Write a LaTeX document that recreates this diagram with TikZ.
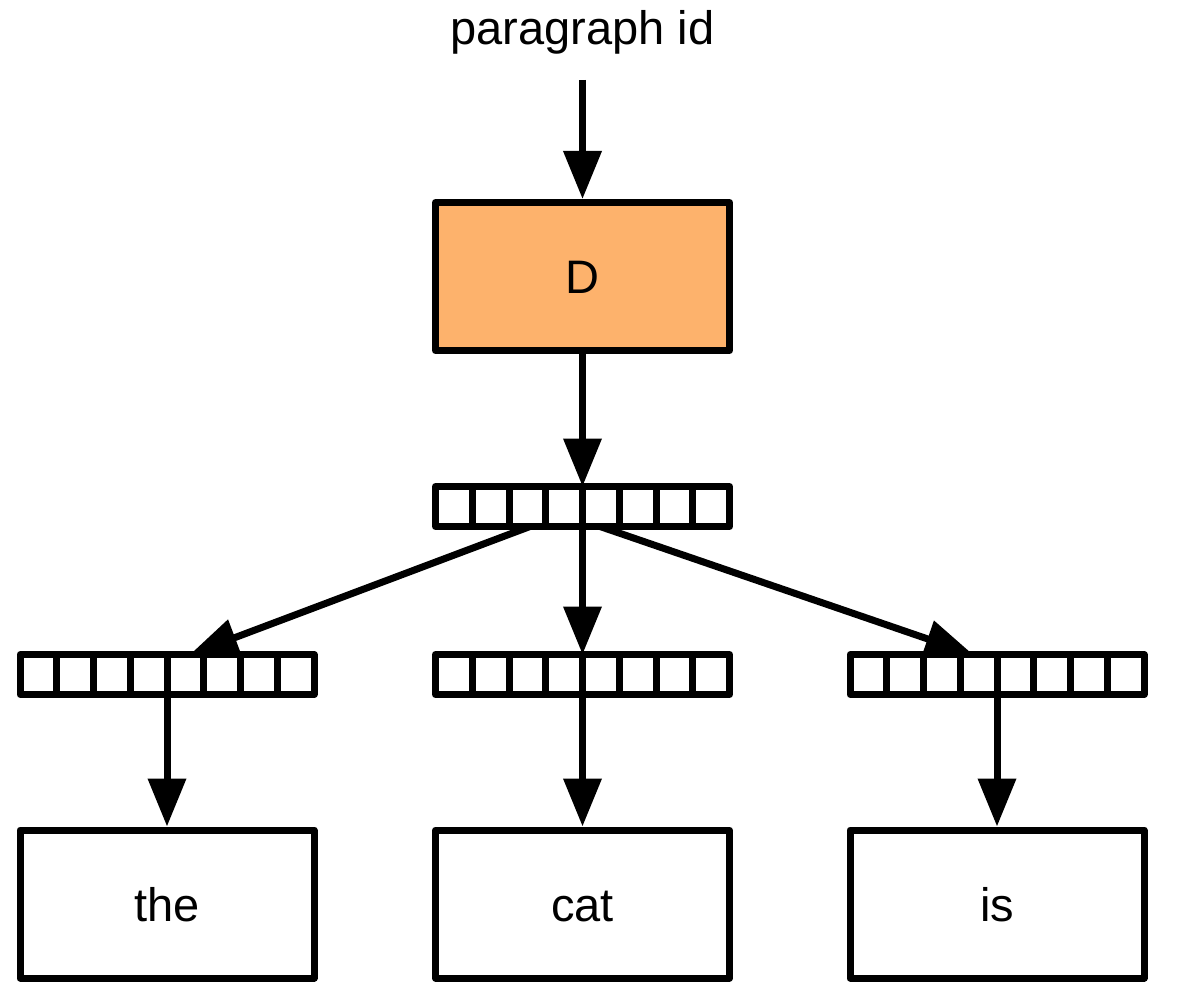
\documentclass[tikz,border=0pt]{standalone}
\usepackage{fontspec}
\setmainfont{Liberation Sans}
\usetikzlibrary{arrows.meta,calc}
\definecolor{dfill}{RGB}{253,178,108}
\tikzset{
  lw/.style={line width=7pt},
  txt/.style={font=\fontsize{47}{56}\selectfont},
  wordbox/.style={draw, lw, rectangle, minimum width=294pt, minimum height=148pt, inner sep=0pt, line join=round, txt, text height=34pt, text depth=0pt},
  vecbox/.style={draw, lw, rectangle, minimum width=294pt, minimum height=40pt, inner sep=0pt, outer sep=0pt, line join=round},
  arr/.style={lw, -{Triangle[length=48pt,width=37pt]}},
  conn/.style={lw}
}
\newcommand\drawcells[1]{\foreach \i in {1,...,7}{\draw[lw] ($(#1.south west)!\i/8!(#1.south east)$) -- ($(#1.north west)!\i/8!(#1.north east)$);}}
\begin{document}
\begin{tikzpicture}[x=1pt,y=-1pt]
\useasboundingbox (0,0) rectangle (1178,1000);
\node[txt, inner sep=0pt, anchor=base] (pid) at (582.5,45) {paragraph id};
\node[wordbox, fill=dfill] (D) at (582.5,276.5) {D};
\node[vecbox] (v0) at (582.5,506.5) {};
\node[vecbox] (v1) at (167,674.5) {};
\node[vecbox] (v2) at (582.5,674.5) {};
\node[vecbox] (v3) at (997,674.5) {};
\drawcells{v0}
\drawcells{v1}
\drawcells{v2}
\drawcells{v3}
\node[wordbox] (the) at (167,904) {the};
\node[wordbox] (cat) at (582.5,904) {cat};
\node[wordbox] (is) at (997,904) {is};
\draw[arr, shorten <=25pt] (pid.south) -- (D.north);
\draw[arr] (D.south) -- (v0.north);
\draw[arr] ([xshift=-52.5pt]v0.south) -- ([xshift=23pt]v1.north);
\draw[arr] (v0.south) -- (v2.north);
\draw[arr] ([xshift=17.5pt]v0.south) -- ([xshift=-24pt]v3.north);
\draw[arr] (v1.south) -- (the.north);
\draw[arr] (v2.south) -- (cat.north);
\draw[arr] (v3.south) -- (is.north);
\end{tikzpicture}
\end{document}
